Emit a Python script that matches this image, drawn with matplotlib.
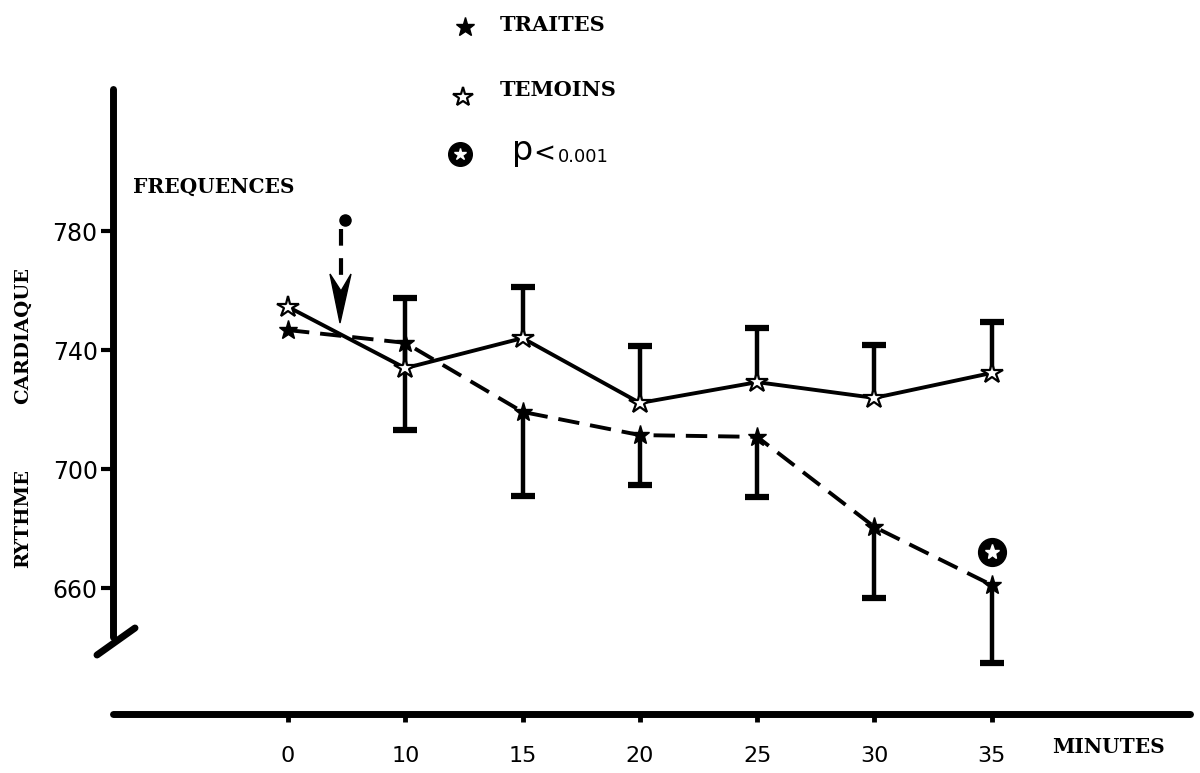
import numpy as np
import matplotlib
matplotlib.use("Agg")
import matplotlib.pyplot as plt
from matplotlib.patches import Polygon

# Heart rate (beats/min) over time, treated vs control groups
minutes = ["0", "10", "15", "20", "25", "30", "35"]
temoins = [754.5, 733.9, 744.0, 722.2, 729.2, 723.9, 732.3]
temoins_upper = [np.nan, 757.5, 761.2, 741.3, 747.4, 741.7, 749.4]
traites = [746.7, 742.4, 719.2, 711.4, 710.8, 680.5, 661.0]
traites_lower = [np.nan, 713.1, 690.9, 694.6, 690.6, 656.6, 634.8]
y_ticks = [660, 700, 740, 780]
sig_index = 6
sig_level = 672

W, H = 1200, 773
fig = plt.figure(figsize=(W / 100, H / 100), dpi=100, facecolor="white")


def fx(px):
    return px / W


def fy(py):
    return 1 - py / H


SERIF = dict(family="DejaVu Serif", weight="bold")
SANS = "DejaVu Sans"

# main data axes
ax = fig.add_axes([fx(113), fy(714), fx(1190) - fx(113), 1 - fy(714)])
ax.set_xlim(-1.492, 7.690)
ax.set_ylim(617.65, 857.65)
ax.patch.set_alpha(0)
for s in ("top", "right"):
    ax.spines[s].set_visible(False)
ax.spines["left"].set_linewidth(5)
ax.spines["left"].set_bounds(643.5, 827.7)
ax.spines["left"].set_capstyle("round")
ax.spines["bottom"].set_linewidth(5)
ax.spines["bottom"].set_capstyle("round")

x = np.arange(len(minutes))
ax.set_xticks(x, minutes)
ax.set_yticks(y_ticks)
ax.tick_params(axis="y", direction="out", length=9, width=3, pad=2, labelsize=17)
ax.tick_params(axis="x", direction="out", length=6, width=3.5, pad=17, labelsize=16)
for lab in ax.get_xticklabels() + ax.get_yticklabels():
    lab.set_family(SANS)

temoins = np.array(temoins)
traites = np.array(traites)
t_up = np.array(temoins_upper)
tr_lo = np.array(traites_lower)

# one-sided error bars: controls upward, treated downward
ok = ~np.isnan(t_up)
ax.vlines(x[ok], temoins[ok], t_up[ok], color="k", lw=3.2, zorder=2)
ax.plot(x[ok], t_up[ok], ls="none", marker="_", ms=17, mew=4.5, color="k", zorder=2)
ok = ~np.isnan(tr_lo)
ax.vlines(x[ok], tr_lo[ok], traites[ok], color="k", lw=3.2, zorder=2)
ax.plot(x[ok], tr_lo[ok], ls="none", marker="_", ms=17, mew=4.5, color="k", zorder=2)

# series lines
ax.plot(x, temoins, color="k", lw=2.8, zorder=3, solid_capstyle="round")
ax.plot(x, traites, color="k", lw=2.8, dashes=(5.5, 2.8), zorder=3)

# markers
ax.plot(x, temoins, ls="none", marker="*", ms=16, mfc="white", mec="k", mew=1.6, zorder=4)
ax.plot(x, traites, ls="none", marker="*", ms=14, color="k", zorder=4)

# significance badge
ax.plot(x[sig_index], sig_level, marker="o", ms=20, color="k", zorder=4)
ax.plot(x[sig_index], sig_level, marker="*", ms=11, color="white", zorder=5)

# overlay in pixel coordinates for annotations
ov = fig.add_axes([0, 0, 1, 1])
ov.set_xlim(0, W)
ov.set_ylim(H, 0)
ov.axis("off")
ov.patch.set_alpha(0)

# legend
ov.plot(465, 27, marker="*", ms=14, color="k")
ov.text(500, 25, "TRAITES", ha="left", va="center", size=15, **SERIF)
ov.plot(463, 97, marker="*", ms=15, mfc="white", mec="k", mew=1.6)
ov.text(500, 90, "TEMOINS", ha="left", va="center", size=15, **SERIF)
ov.plot(460, 154, marker="o", ms=17, color="k")
ov.plot(460, 154, marker="*", ms=9, color="white")
ov.text(512, 160, "p", ha="left", va="baseline", size=24, family=SANS)
ov.text(533, 161, "<", ha="left", va="baseline", size=19, family=SANS)
ov.text(558, 162, "0.001", ha="left", va="baseline", size=13, family=SANS)

# axis titles
ov.text(133, 187, "FREQUENCES", ha="left", va="center", size=14.5, **SERIF)
ov.text(23, 335, "CARDIAQUE", ha="center", va="center", rotation=90, size=14, **SERIF)
ov.text(23, 519, "RYTHME", ha="center", va="center", rotation=90, size=14, **SERIF)
ov.text(1052, 747, "MINUTES", ha="left", va="center", size=14.5, **SERIF)

# axis break mark
ov.plot([97, 135], [655, 628], color="k", lw=5, solid_capstyle="round")

# injection arrow
ov.plot(345, 220, marker="o", ms=8, color="k")
ov.plot([341, 341], [229, 282], color="k", lw=3, dashes=(4, 3))
ov.add_patch(Polygon([(340, 323), (330, 274), (341, 291), (351, 274)],
                     closed=True, color="k"))

fig.savefig("out.png", dpi=100, facecolor="white")
